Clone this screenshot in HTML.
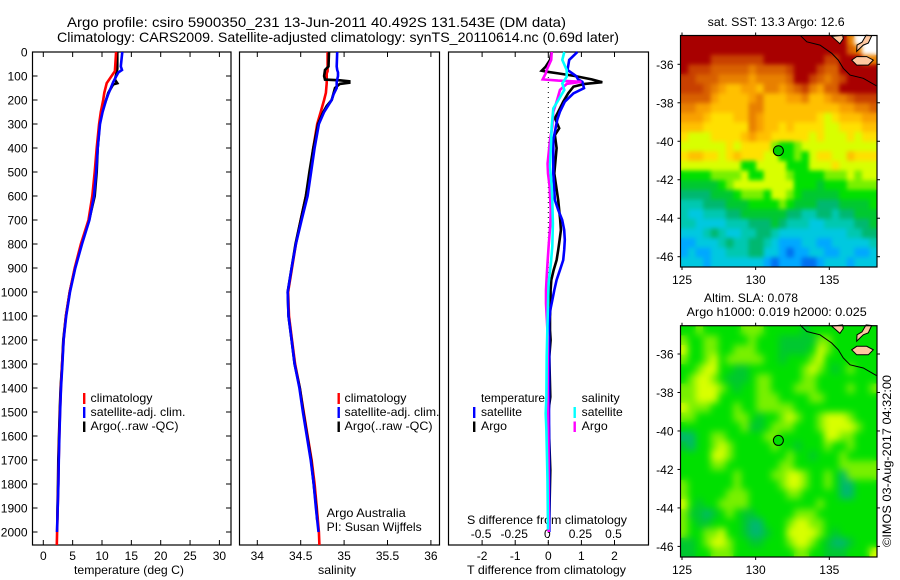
<!DOCTYPE html>
<html>
<head>
<meta charset="utf-8">
<title>Argo profile</title>
<style>
html,body{margin:0;padding:0;background:#fff;}
svg{display:block;}
text{font-family:"Liberation Sans",sans-serif;font-size:12px;fill:#000;}
</style>
</head>
<body>
<svg id="chart" xmlns="http://www.w3.org/2000/svg" width="900" height="580" viewBox="0 0 900 580">
<defs>
<filter id="soft-sst" x="0" y="0" width="1" height="1" color-interpolation-filters="sRGB"><feGaussianBlur in="SourceGraphic" stdDeviation="2.2" result="b"/><feMerge><feMergeNode in="SourceGraphic"/><feMergeNode in="b"/></feMerge></filter>
<filter id="soft-sla" x="0" y="0" width="1" height="1" color-interpolation-filters="sRGB"><feGaussianBlur in="SourceGraphic" stdDeviation="3.6" result="b"/><feMerge><feMergeNode in="SourceGraphic"/><feMergeNode in="b"/></feMerge></filter>
</defs>
<rect x="0" y="0" width="900" height="580" fill="#fff"/>
<text x="67" y="27" style="font-size:14px" textLength="499" lengthAdjust="spacingAndGlyphs">Argo profile: csiro 5900350_231 13-Jun-2011 40.492S 131.543E (DM data)</text>
<text x="57" y="42" style="font-size:14px" textLength="562" lengthAdjust="spacingAndGlyphs">Climatology: CARS2009. Satellite-adjusted climatology: synTS_20110614.nc (0.69d later)</text>
<text x="74" y="574" textLength="110" lengthAdjust="spacingAndGlyphs">temperature (deg C)</text>
<text x="318" y="574" textLength="38" lengthAdjust="spacingAndGlyphs">salinity</text>
<text x="467" y="574" textLength="159" lengthAdjust="spacingAndGlyphs">T difference from climatology</text>
<text x="467" y="524" textLength="160" lengthAdjust="spacingAndGlyphs">S difference from climatology</text>
<text x="90.5" y="402" textLength="62" lengthAdjust="spacingAndGlyphs">climatology</text>
<text x="90.5" y="416" textLength="95" lengthAdjust="spacingAndGlyphs">satellite-adj. clim.</text>
<text x="90.5" y="430" textLength="88" lengthAdjust="spacingAndGlyphs">Argo(..raw -QC)</text>
<text x="344.5" y="402" textLength="62" lengthAdjust="spacingAndGlyphs">climatology</text>
<text x="344.5" y="416" textLength="95" lengthAdjust="spacingAndGlyphs">satellite-adj. clim.</text>
<text x="344.5" y="430" textLength="88" lengthAdjust="spacingAndGlyphs">Argo(..raw -QC)</text>
<text x="326.7" y="517" textLength="79" lengthAdjust="spacingAndGlyphs">Argo Australia</text>
<text x="326.7" y="531" textLength="95" lengthAdjust="spacingAndGlyphs">PI: Susan Wijffels</text>
<text x="481" y="402" textLength="64" lengthAdjust="spacingAndGlyphs">temperature</text>
<text x="481" y="416" textLength="41" lengthAdjust="spacingAndGlyphs">satellite</text>
<text x="481" y="430" textLength="26" lengthAdjust="spacingAndGlyphs">Argo</text>
<text x="581.7" y="402" textLength="38" lengthAdjust="spacingAndGlyphs">salinity</text>
<text x="581.7" y="416" textLength="41" lengthAdjust="spacingAndGlyphs">satellite</text>
<text x="581.7" y="430" textLength="26" lengthAdjust="spacingAndGlyphs">Argo</text>
<text x="707.7" y="26" textLength="137" lengthAdjust="spacingAndGlyphs">sat. SST: 13.3 Argo: 12.6</text>
<text x="704" y="302" textLength="94" lengthAdjust="spacingAndGlyphs">Altim. SLA: 0.078</text>
<text x="686.7" y="316" textLength="180" lengthAdjust="spacingAndGlyphs">Argo h1000: 0.019 h2000: 0.025</text>
<text transform="translate(891,547) rotate(-90)" x="0" y="0" textLength="172" lengthAdjust="spacingAndGlyphs">©IMOS 03-Aug-2017 04:32:00</text>
</svg>
<script>
// ---- profile data ----
var depthTicks = [0,100,200,300,400,500,600,700,800,900,1000,1100,1200,1300,1400,1500,1600,1700,1800,1900,2000];
var tempTicks = [0,5,10,15,20,25,30];
var salTicks = [34,34.5,35,35.5,36];
var salTickLabels = ['34','34.5','35','35.5','36'];
var diffTTicks = [-2,-1,0,1,2];
var diffTTickLabels = ['-2','-1','0','1','2'];
var diffSTickLabels = ['-0.5','-0.25','0','0.25','0.5'];

var climDepth = [0,80,90,130,170,200,250,300,400,500,600,700,800,900,1000,1100,1200,1300,1400,1500,1600,1700,1800,1900,2000,2054];
var tempClim = [12.4,12.2,11.9,10.8,10.4,10.2,9.8,9.5,9.1,8.75,8.35,7.7,6.4,5.35,4.5,3.85,3.45,3.2,3.0,2.85,2.73,2.62,2.56,2.45,2.35,2.3];
var satTempDepth = [0,60,75,85,100,125,150,175,200,250,300,400,500,600,700,800,900,1000,1100,1200,1300,1400,1500,1600,1700,1800,1900,2000];
var tempSat = [13.46,13.2,13.4,12.8,12.45,11.9,11.5,11.07,10.7,10.1,9.66,9.27,9.0,8.64,7.85,6.6,5.45,4.55,3.9,3.45,3.25,3.02,2.87,2.74,2.64,2.58,2.45,2.33];
var argoTempDepth = [0,70,90,115,130,135,170,200,250,300,400,500,600,700,800,900,1000,1100,1200,1300,1400,1500,1600,1700,1800,1900,1950];
var tempArgo = [12.6,12.6,12.45,12.2,12.6,11.9,11.07,10.7,9.95,9.6,9.27,9.1,8.75,7.8,6.5,5.4,4.5,3.85,3.4,3.2,2.95,2.8,2.68,2.55,2.5,2.42,2.38];

var salClim = [34.81,34.81,34.80,34.80,34.79,34.77,34.73,34.69,34.645,34.61,34.56,34.5,34.445,34.40,34.355,34.365,34.40,34.435,34.49,34.535,34.58,34.625,34.66,34.685,34.71,34.715];
var salSat = [34.92,34.915,34.92,34.93,34.93,34.915,34.915,34.88,34.857,34.77,34.71,34.66,34.62,34.58,34.51,34.445,34.395,34.35,34.36,34.395,34.43,34.485,34.525,34.57,34.615,34.65,34.675,34.705];
var argoSalDepth = [0,60,75,100,115,118,122,128,133,150,200,225,250,300,400,500,600,700,800,900,1000,1100,1200,1300,1400,1500,1600,1700,1800,1900,1950];
var salArgo = [34.826,34.82,34.78,34.77,34.78,34.95,35.06,35.06,34.95,34.895,34.857,34.8,34.76,34.70,34.645,34.6,34.56,34.5,34.44,34.395,34.35,34.36,34.395,34.43,34.49,34.53,34.575,34.62,34.65,34.68,34.69];

// difference panel (T in deg C, S in psu)
var diffTSatDepth = [0,33,75,100,114,124,151,172,207,249,283,367,506,617,658,700,742,783,825,867,909,950,992,1034,1075,1131,1270,1500,1750,2000];
var diffTSat = [0.88,0.63,0.58,0.84,0.9,1.03,1.08,0.76,0.5,0.35,0.27,0.15,0.15,0.2,0.3,0.42,0.48,0.5,0.48,0.45,0.35,0.25,0.18,0.12,0.06,0.02,0.03,0.02,0.03,0.03];
var diffTArgoDepth = [0,33,61,78,82,89,100,114,126,133,144,172,207,249,276,318,346,401,506,617,700,742,783,825,867,909,950,992,1047,1103,1159,1200,1270,1437,1500,1742,2000];
var diffTArgo = [0.1,0.05,-0.08,-0.2,-0.05,0.3,0.8,1.31,1.63,1.1,0.76,0.6,0.45,0.3,0.2,0.33,0.2,0.25,0.18,0.3,0.36,0.38,0.34,0.3,0.25,0.16,0.09,0.07,0.07,0.05,0.05,0.07,0.03,0.06,0.0,0.06,0.02];
var diffSArgoDepth = [0,33,75,89,114,119,124,133,158,207,249,311,367,464,506,560,658,714,811,880,936,992,1047,1103,1187,1400,1700,2000];
var diffSArgo = [0.026,0.022,-0.012,-0.02,-0.042,0.074,0.25,0.14,0.088,0.063,0.038,0.03,0.013,-0.005,-0.002,0.01,0.018,0.016,0.002,-0.006,-0.012,-0.017,-0.017,-0.012,-0.004,-0.004,0.002,0.003];
var diffSSatDepth = [0,33,75,103,131,158,200,235,311,367,478,560,617,714,811,880,964,1047,1131,1270,1437,1506,1575,1785,1990];
var diffSSat = [0.121,0.106,0.139,0.139,0.106,0.121,0.076,0.038,0.026,0.022,0.013,0.026,0.03,0.035,0.03,0.02,0.002,-0.002,-0.006,-0.012,-0.014,-0.02,-0.014,-0.006,-0.002];

// ---- map data ----
var lonTicks = [125,130,135];
var latTicks = [-36,-38,-40,-42,-44,-46];
var sstRows = [
"00000000000000000000003www",
"000000000000000000000023ww",
"00001111111000000001100033",
"01112222232222100012200000",
"11222333343333200123210000",
"11123455445334321342200000",
"22224555543555443554332111",
"33445555533555555555544332",
"44456665534555555567655544",
"55566666634556566667766655",
"67776666545566666767776766",
"77777767666689987777777777",
"65566765666779989766775666",
"77777777997777999777677777",
"99998888799777899998887877",
"aaaaa9877777777999a9998888",
"bbbbaaa988897789aaaaa99999",
"cccbbbaaa999989aaabbbaaaa9",
"cddcccbbaaaaaabbccbbcbbaaa",
"ccddddcccbbbabcccddccccbba",
"dddcbcddccbbcdddddddddccbb",
"eedddcbccbbcdeeeddeedddddc",
"edeeddcccbbddefeeddeeddeed",
"dddedddddddefeeeffedddeddd"
];
var slaRows = [
"9989999988899999a999999999",
"8998899998999aaaaa88999999",
"7998899888999aaaa978999999",
"8998798888899a999879999999",
"9987799aa99999998789a98999",
"987789aaa98899998899999999",
"8877789a998899988899998998",
"88777999998889999889999999",
"78889998998888899999999999",
"8899999889a998789987778999",
"999999998aa988899987777899",
"bb998899999889999997788999",
"ab9987899999899a9998998999",
"99997789999999899a99989999",
"99998899999998899999988888",
"999999989999887789989b8888",
"899999989999987789989bb999",
"899999888999998899999bb999",
"79a99888899999999989999999",
"8aaba989aa9999988899999999",
"89aa9999abb999877889999999",
"89988799abba99777789a99999",
"aa9877899aa99987789abba999",
"aa99888999999998899aaa9997"
];
var levelKeys = ['0','1','2','3','4','5','6','7','8','9','a','b','c','d','e','f','w'];
var levelColors = ['#a80000','#c84000','#d86000','#e88000','#f8a000','#ffc000','#ffe000','#d8ff00','#78f000','#00e000','#00c830','#00b870','#00c8b0','#00c8e0','#00a8ff','#0070f0','#ffffff'];
var coastLon = [133.01,133.47,134.37,135.16,135.61,135.95,136.41,137.31,138.22];
var coastLat = [-34.49,-34.83,-35.0,-35.43,-35.78,-36.21,-36.56,-36.73,-37.13];
var islandLon = [136.52,136.86,137.54,137.99,137.65,136.86];
var islandLat = [-35.78,-35.6,-35.6,-35.78,-36.04,-36.04];
var peninsulaLon = [136.86,137.31,137.65,137.88,137.5,137.22,136.88];
var peninsulaLat = [-35.33,-35.0,-34.9,-34.52,-34.49,-34.85,-35.0];
var gulfLon = [135.16,135.72,135.95,135.9];
var gulfLat = [-34.55,-34.93,-34.67,-34.49];
var argoLon = 131.543;
var argoLat = -40.492;

// ---- helpers ----
var NS = 'http://www.w3.org/2000/svg';
var svg = document.getElementById('chart');
function make(tag, attrs) {
  var el = document.createElementNS(NS, tag);
  for (var k in attrs) el.setAttribute(k, attrs[k]);
  svg.appendChild(el);
  return el;
}
function depthY(d) { return 52 + 0.24 * d; }
function tempX(t) { return 43.3 + 5.87 * t; }
function salX(s) { return 257.3 + 86.8 * (s - 34); }
function diffTX(t) { return 548.3 + 33.1 * t; }
function diffSX(s) { return 548.3 + 132.4 * s; }

function drawLine(xs, ds, xf, color, name) {
  var pts = xs.map(function (v, i) { return xf(v).toFixed(1) + ',' + depthY(ds[i]).toFixed(1); }).join(' ');
  var el = make('polyline', { points: pts, fill: 'none', stroke: color, 'stroke-width': 2.6, 'stroke-linejoin': 'miter' });
  
  
}
function drawLegendBar(x, y, h, color) {
  var el = make('rect', { x: x, y: y, width: 2.4, height: h, fill: color });
  
  
}
function drawFrame(l, t, r, b, name) {
  var el = make('rect', { x: l, y: t, width: r - l, height: b - t, fill: 'none', stroke: '#000', 'stroke-width': 1.2 });
  
  
}
function drawTick(x1, y1, x2, y2) {
  var el = make('line', { x1: x1, y1: y1, x2: x2, y2: y2, stroke: '#000', 'stroke-width': 1 });
  
  
}
function drawLabel(x, y, s, anchor) {
  var el = make('text', { x: x, y: y, 'text-anchor': anchor });
  el.textContent = s;
  
  
}

// ---- profile panels ----
drawFrame(32.5, 52, 231, 545, 'temperature-panel-frame');
drawFrame(239.5, 52, 439.5, 545, 'salinity-panel-frame');
drawFrame(448.5, 52, 648.5, 545, 'difference-panel-frame');

depthTicks.forEach(function (d) {
  drawTick(32.5, depthY(d), 37.5, depthY(d));
  drawTick(226, depthY(d), 231, depthY(d));
  drawLabel(27.5, depthY(d) + 4.5, String(d), 'end');
});
tempTicks.forEach(function (t) {
  drawTick(tempX(t), 52, tempX(t), 57);
  drawTick(tempX(t), 545, tempX(t), 540);
  drawLabel(tempX(t), 560, String(t), 'middle');
});
salTicks.forEach(function (s, i) {
  drawTick(salX(s), 52, salX(s), 57);
  drawTick(salX(s), 545, salX(s), 540);
  drawLabel(salX(s), 560, salTickLabels[i], 'middle');
});
diffTTicks.forEach(function (t, i) {
  drawTick(diffTX(t), 52, diffTX(t), 57);
  drawTick(diffTX(t), 545, diffTX(t), 540);
  drawLabel(diffTX(t), 560, diffTTickLabels[i], 'middle');
  drawLabel(diffTX(t) - 1, 538, diffSTickLabels[i], 'middle');
});

var zero = make('line', { x1: diffTX(0), y1: 52, x2: diffTX(0), y2: 545, stroke: '#000', 'stroke-width': 1, 'stroke-dasharray': '1 4' });



drawLine(tempArgo, argoTempDepth, tempX, '#000', 'temperature-argo-line');
drawLine(tempClim, climDepth, tempX, '#ff0000', 'temperature-climatology-line');
drawLine(tempSat, satTempDepth, tempX, '#0000ff', 'temperature-satellite-line');
drawLine(salClim, climDepth, salX, '#ff0000', 'salinity-climatology-line');
drawLine(salArgo, argoSalDepth, salX, '#000', 'salinity-argo-line');
drawLine(salSat, satTempDepth, salX, '#0000ff', 'salinity-satellite-line');
drawLine(diffTArgo, diffTArgoDepth, diffTX, '#000', 'diff-t-argo-line');
drawLine(diffTSat, diffTSatDepth, diffTX, '#0000ff', 'diff-t-satellite-line');
drawLine(diffSArgo, diffSArgoDepth, diffSX, '#ff00ff', 'diff-s-argo-line');
drawLine(diffSSat, diffSSatDepth, diffSX, '#00ffff', 'diff-s-satellite-line');

drawLegendBar(83, 393, 11, '#ff0000');
drawLegendBar(83, 407, 11, '#0000ff');
drawLegendBar(83, 421.5, 10.5, '#000');
drawLegendBar(337.5, 393, 11, '#ff0000');
drawLegendBar(337.5, 407, 11, '#0000ff');
drawLegendBar(337.5, 421.5, 10.5, '#000');
drawLegendBar(473, 407, 11, '#0000ff');
drawLegendBar(473, 421.5, 10.5, '#000');
drawLegendBar(573.5, 407, 11, '#00ffff');
drawLegendBar(573.5, 421.5, 10.5, '#ff00ff');

// ---- maps ----
function drawMap(rows, top, bottom, lat36, namePrefix, markerFill, filterId) {
  var left = 680.5, right = 877;
  function lonX(lon) { return 682 + 14.73 * (lon - 125); }
  function latY(lat) { return lat36 + 19.24 * (-36 - lat); }
  var cw = (right - left) / rows[0].length;
  var ch = (bottom - top) / rows.length;
  var group = make('g', { filter: 'url(#' + filterId + ')' });
  
  
  rows.forEach(function (row, r) {
    for (var c = 0; c < row.length; c++) {
      var cell = make('rect', { x: (left + c * cw).toFixed(2), y: (top + r * ch).toFixed(2), width: (cw + 0.4).toFixed(2), height: (ch + 0.4).toFixed(2), fill: levelColors[levelKeys.indexOf(row[c])] });
      
      
      group.appendChild(cell);
    }
  });
  function poly(lons, lats, name) {
    var pts = lons.map(function (v, i) { return lonX(v).toFixed(1) + ',' + latY(lats[i]).toFixed(1); }).join(' ');
    var el = make('polygon', { points: pts, fill: '#ffc8a0', stroke: '#000', 'stroke-width': 1 });
    
    
  }
  poly(islandLon, islandLat, namePrefix + '-island');
  poly(peninsulaLon, peninsulaLat, namePrefix + '-peninsula');
  poly(gulfLon, gulfLat, namePrefix + '-coast-land');
  var coastPts = coastLon.map(function (v, i) { return lonX(v).toFixed(1) + ',' + latY(coastLat[i]).toFixed(1); }).join(' ');
  var coast = make('polyline', { points: coastPts, fill: 'none', stroke: '#000', 'stroke-width': 1 });
  
  
  drawFrame(left, top, right, bottom, namePrefix + '-map-frame');
  lonTicks.forEach(function (lon) {
    drawTick(lonX(lon), top, lonX(lon), top - 3);
    drawTick(lonX(lon), bottom, lonX(lon), bottom + 3);
    drawLabel(lonX(lon), bottom + 17, String(lon), 'middle');
  });
  latTicks.forEach(function (lat) {
    drawTick(left, latY(lat), left - 3, latY(lat));
    drawTick(right, latY(lat), right + 3, latY(lat));
    drawLabel(673.5, latY(lat) + 4.5, String(lat), 'end');
  });
  var marker = make('circle', { cx: lonX(argoLon), cy: latY(argoLat), r: 5, fill: markerFill, stroke: '#000', 'stroke-width': 1 });
  
  
}
drawMap(sstRows, 35.5, 267, 64.3, 'sst', '#00d000', 'soft-sst');
drawMap(slaRows, 325.7, 557, 354, 'sla', '#00e000', 'soft-sla');
</script>
</body>
</html>
